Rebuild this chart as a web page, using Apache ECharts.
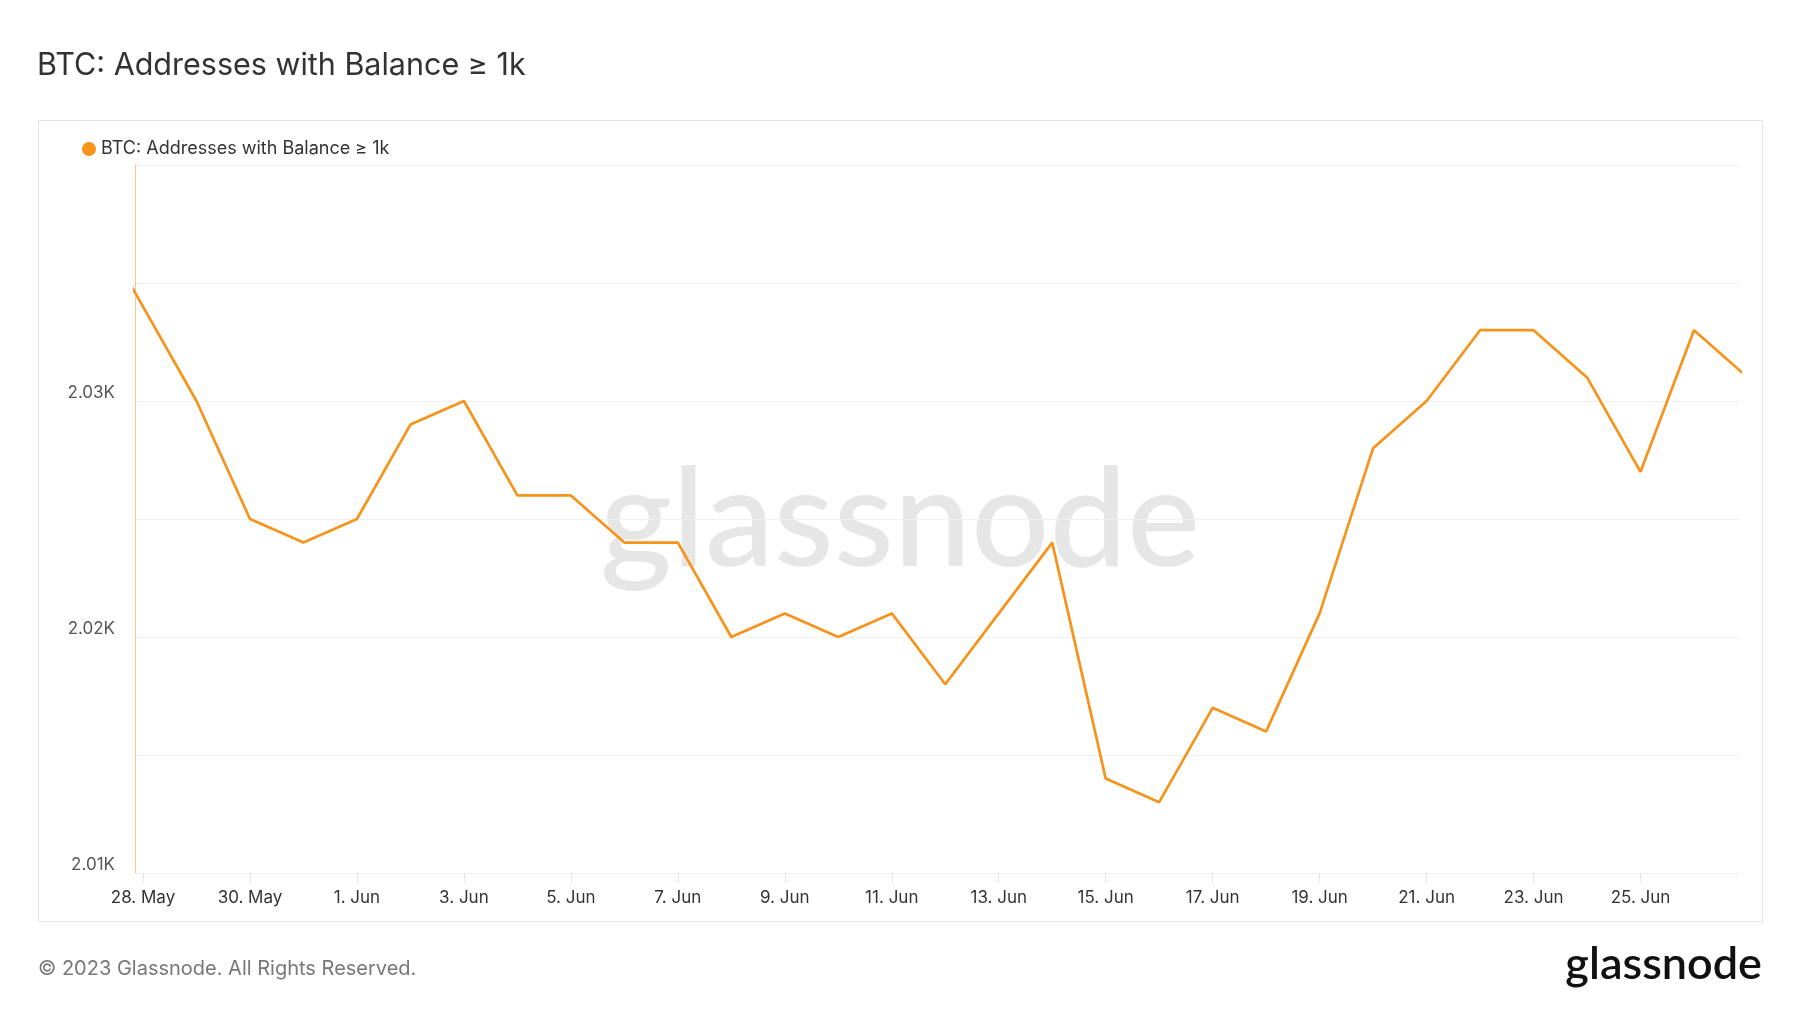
<!DOCTYPE html>
<html>
<head>
<meta charset="utf-8">
<script src="https://cdn.jsdelivr.net/npm/echarts@6/dist/echarts.min.js"></script>
<style>
html,body{margin:0;padding:0;background:#fff;}
#chart{width:1800px;height:1013px;}
</style>
</head>
<body>
<div id="chart"></div>
<script>
// Day offsets relative to 28 May (index 0); -1 = 27 May (clipped at the left edge)
const dayIndex = [-1,0,1,2,3,4,5,6,7,8,9,10,11,12,13,14,15,16,17,18,19,20,21,22,23,24,25,26,27,28,29,30];
const dates = ['27 May','28 May','29 May','30 May','31 May','1 Jun','2 Jun','3 Jun','4 Jun','5 Jun','6 Jun','7 Jun','8 Jun','9 Jun','10 Jun','11 Jun','12 Jun','13 Jun','14 Jun','15 Jun','16 Jun','17 Jun','18 Jun','19 Jun','20 Jun','21 Jun','22 Jun','23 Jun','24 Jun','25 Jun','26 Jun','27 Jun'];
const values = [2038,2034,2030,2025,2024,2025,2029,2030,2026,2026,2024,2024,2020,2021,2020,2021,2018,2021,2024,2014,2013,2017,2016,2021,2028,2030,2033,2033,2031,2027,2033,2031];

const xTickValues = [0,2,4,6,8,10,12,14,16,18,20,22,24,26,28];
const xTickLabels = ['28. May','30. May','1. Jun','3. Jun','5. Jun','7. Jun','9. Jun','11. Jun','13. Jun','15. Jun','17. Jun','19. Jun','21. Jun','23. Jun','25. Jun'];
const yTickValues = [2010,2020,2030];
const yTickLabels = ['2.01K','2.02K','2.03K'];

const seriesName = 'BTC: Addresses with Balance ≥ 1k';
const titleText = 'BTC: Addresses with Balance ≥ 1k';
const footerText = '© 2023 Glassnode. All Rights Reserved.';

const chart = echarts.init(document.getElementById('chart'), null, {renderer:'canvas'});
const font = 'Inter, "Noto Sans", sans-serif';

const option = {
  backgroundColor: '#ffffff',
  animation: false,
  textStyle: {fontFamily: font},
  title: {
    text: titleText,
    left: 32,
    top: 45,
    textStyle: {fontFamily: font, fontSize: 30.5, fontWeight: 'normal', color: '#333333'}
  },
  legend: {
    data: [seriesName],
    left: 77,
    top: 135,
    icon: 'circle',
    itemWidth: 14,
    itemHeight: 14,
    itemGap: 10,
    textStyle: {fontFamily: font, fontSize: 18, color: '#333333', padding: [0,0,0,0]}
  },
  graphic: [
    {type: 'rect', left: 38, top: 120, z: -10, silent: true,
     shape: {width: 1724, height: 801},
     style: {fill: '#ffffff', stroke: '#e3e3e3', lineWidth: 1}},
    {type: 'text', left: 'center', top: 452, z: -5, silent: true,
     style: {text: 'glassnode', fill: '#e6e6e6', font: '500 138px Lato, "Noto Sans", sans-serif'}},
    {type: 'text', left: 38, top: 959, silent: true,
     style: {text: footerText, fill: '#777777', font: '20px ' + font}},
    {type: 'text', right: 38, top: 942, silent: true,
     style: {text: 'glassnode', fill: '#111111', font: '600 45px Lato, "Noto Sans", sans-serif'}}
  ],
  grid: {left: 135, right: 60, top: 165, bottom: 140, containLabel: false},
  xAxis: {
    type: 'value',
    min: -0.15,
    max: 29.86,
    splitLine: {show: false},
    axisLine: {show: false},
    axisTick: {show: true, customValues: xTickValues, length: 10, lineStyle: {color: '#e6e6e6'}},
    axisLabel: {
      customValues: xTickValues,
      margin: 16,
      fontSize: 17,
      color: '#333333',
      fontFamily: font,
      formatter: function (v) {
        const i = xTickValues.indexOf(Math.round(v));
        return i >= 0 ? xTickLabels[i] : '';
      }
    }
  },
  yAxis: {
    type: 'value',
    min: 2010,
    max: 2040,
    interval: 5,
    axisLine: {show: true, onZero: false, lineStyle: {color: '#fbc48a', width: 1}},
    axisTick: {show: false},
    splitLine: {show: true, lineStyle: {color: '#f0f0f0', width: 1}},
    axisLabel: {
      customValues: yTickValues,
      margin: 20,
      fontSize: 17,
      color: '#555555',
      fontFamily: font,
      verticalAlign: 'bottom',
      formatter: function (v) {
        const i = yTickValues.indexOf(Math.round(v));
        return i >= 0 ? yTickLabels[i] : '';
      }
    }
  },
  series: [{
    name: seriesName,
    type: 'line',
    data: dayIndex.map((d, i) => [d, values[i]]),
    showSymbol: false,
    symbol: 'none',
    clip: true,
    color: '#f7931a',
    lineStyle: {color: '#f7931a', width: 2.7},
    z: 5
  }]
};
chart.setOption(option);
</script>
</body>
</html>
